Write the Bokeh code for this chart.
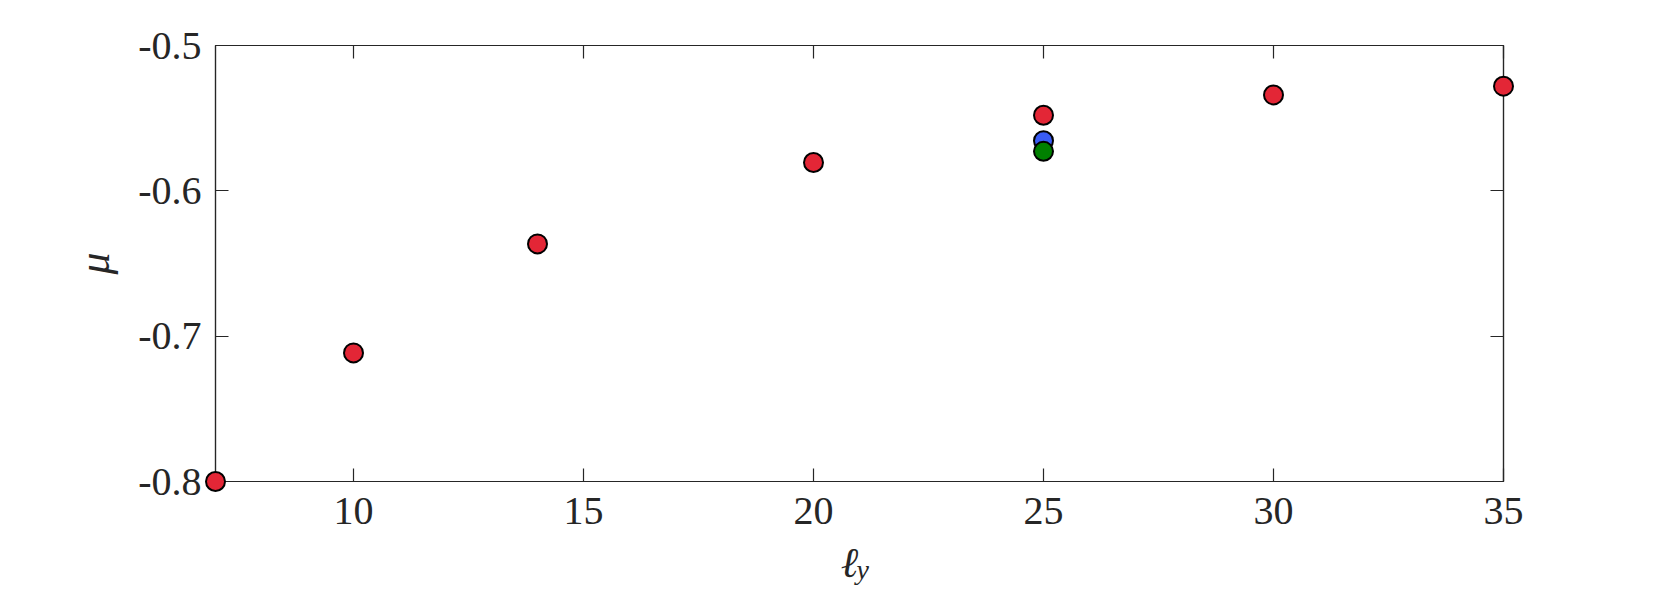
from bokeh.plotting import figure
from bokeh.models import LinearAxis, FixedTicker
from bokeh.core.properties import value
from bokeh.embed import file_html
from bokeh.resources import INLINE

# data
x_red = [7, 10, 14, 20, 25, 30, 35]
y_red = [-0.800, -0.7115, -0.6365, -0.5805, -0.548, -0.534, -0.528]
x_blue = [25]
y_blue = [-0.5655]
x_green = [25]
y_green = [-0.5728]

x_ticks = [10, 15, 20, 25, 30, 35]
x_tick_labels = ["10", "15", "20", "25", "30", "35"]
y_ticks = [-0.8, -0.7, -0.6, -0.5]
y_tick_labels = ["-0.8", "-0.7", "-0.6", "-0.5"]
x_lim = (7, 35)
y_lim = (-0.8, -0.5)

AX = "#262626"
FONT = "Liberation Serif"

p = figure(frame_width=1288, frame_height=436, x_range=x_lim, y_range=y_lim,
           output_backend="svg", toolbar_location=None,
           min_border_left=215, min_border_top=45, min_border_right=142, min_border_bottom=104,
           x_axis_location=None, y_axis_location=None)
p.grid.visible = False
p.outline_line_color = AX
p.outline_line_width = 1.2
p.background_fill_color = "white"
p.border_fill_color = "white"


def style(ax, ticks, labels, show):
    ax.ticker = FixedTicker(ticks=ticks)
    ax.major_label_overrides = {t: (l if show else "") for t, l in zip(ticks, labels)}
    ax.major_tick_in = 13
    ax.major_tick_out = 0
    ax.minor_tick_line_color = None
    ax.axis_line_color = AX
    ax.axis_line_width = 1.2
    ax.major_tick_line_color = AX
    ax.major_tick_line_width = 1.2
    ax.major_label_text_font = FONT
    ax.major_label_text_font_size = "40px"
    ax.major_label_text_color = AX


xb = LinearAxis()
style(xb, x_ticks, x_tick_labels, True)
xb.major_label_standoff = 16
p.add_layout(xb, "below")

yl = LinearAxis()
style(yl, y_ticks, y_tick_labels, True)
yl.major_label_standoff = 14
yl.axis_label = "μ"
yl.axis_label_text_font = FONT
yl.axis_label_text_font_style = "italic"
yl.axis_label_text_font_size = "44px"
yl.axis_label_text_color = AX
yl.axis_label_standoff = 16
p.add_layout(yl, "left")

xt = LinearAxis()
style(xt, x_ticks, x_tick_labels, False)
xt.major_label_text_font_size = "0px"
p.add_layout(xt, "above")

yr = LinearAxis()
style(yr, y_ticks, y_tick_labels, False)
yr.major_label_text_font_size = "0px"
p.add_layout(yr, "right")

# x axis label: ℓ with subscript y, anchored at bottom centre of the frame
x_mid = (x_lim[0] + x_lim[1]) / 2
t1 = p.text(x=[x_mid], y=[y_lim[0]], text=["ℓ"], x_offset=-10, y_offset=81,
            text_font=value(FONT), text_font_style="italic", text_font_size="42px",
            text_color=AX, text_align="center", text_baseline="middle")
t2 = p.text(x=[x_mid], y=[y_lim[0]], text=["y"], x_offset=-3, y_offset=88,
            text_font=value(FONT), text_font_style="italic", text_font_size="28px",
            text_color=AX, text_align="left", text_baseline="middle")

r1 = p.scatter(x_red, y_red, size=19, fill_color="#e32636", line_color="black", line_width=2)
r2 = p.scatter(x_blue, y_blue, size=19, fill_color="#3a5cf5", line_color="black", line_width=2)
r3 = p.scatter(x_green, y_green, size=19, fill_color="#008000", line_color="black", line_width=2)
for r in (t1, t2, r1, r2, r3):
    r.level = "overlay"

open("out.html", "w").write(file_html(p, INLINE))
